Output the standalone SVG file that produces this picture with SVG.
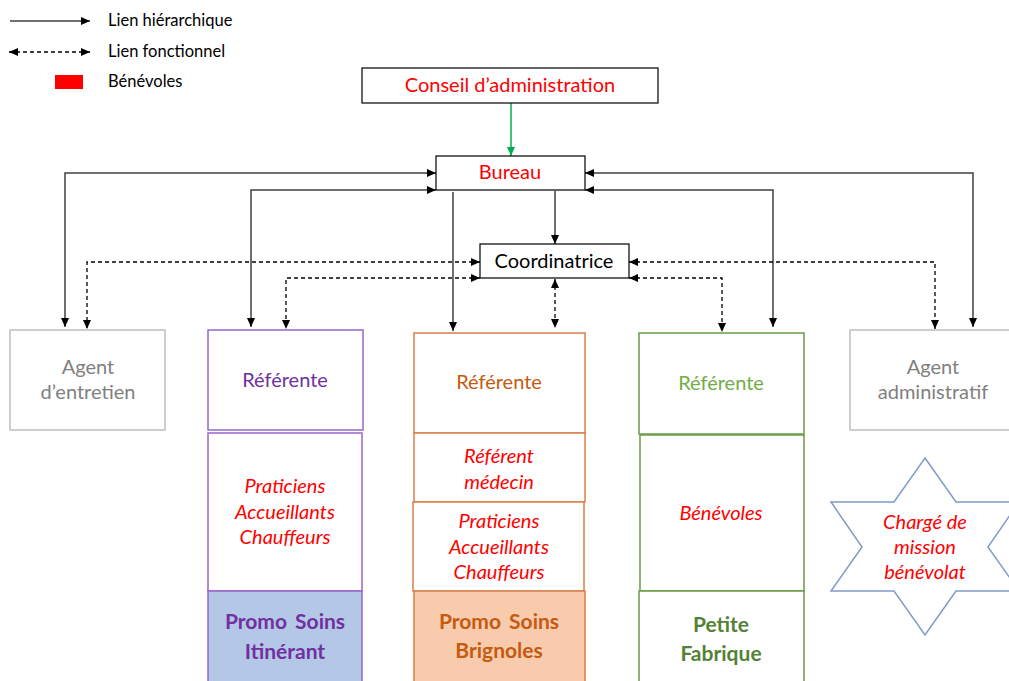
<svg xmlns="http://www.w3.org/2000/svg" width="1009" height="681" viewBox="0 0 1009 681">
<style>
text{font-family:Lato,"Open Sans","Liberation Sans",sans-serif;text-anchor:middle}
.lg{font-size:16.5px;text-anchor:start;fill:#000}
.t18{font-size:20px}
.red{fill:#ff0000}
.it{font-style:italic}
.gray{fill:#7f7f7f;font-size:20px}
.bold{font-weight:bold;font-size:21px}
.sol{fill:none;stroke:#404040;stroke-width:1.5}
.dash{fill:none;stroke:#000;stroke-width:1.3;stroke-dasharray:4 3}
.box{fill:#fff;stroke:#000;stroke-width:1.2}
.gbox{fill:#fff;stroke:#bfbfbf;stroke-width:1.5}
.pbox{fill:#fff;stroke:#9966cc;stroke-width:1.5}
.obox{fill:#fff;stroke:#d9804a;stroke-width:1.5}
.grbox{fill:#fff;stroke:#6a9a45;stroke-width:1.5}
</style>
<defs>
<marker id="ah" markerUnits="userSpaceOnUse" markerWidth="10" markerHeight="10" refX="9" refY="4" orient="auto-start-reverse" viewBox="0 0 10 8">
<path d="M0,0 L9,4 L0,8 Z" fill="#000"/>
</marker>
<marker id="ahg" markerUnits="userSpaceOnUse" markerWidth="10" markerHeight="10" refX="9" refY="4" orient="auto-start-reverse" viewBox="0 0 10 8">
<path d="M0,0 L9,4 L0,8 Z" fill="#00b050"/>
</marker>
</defs>
<rect width="1009" height="681" fill="#fff"/>

<g id="legend">
<line x1="10" y1="21" x2="90" y2="21" class="sol" stroke="#000" marker-end="url(#ah)"/>
<text x="108" y="26" class="lg">Lien hiérarchique</text>
<line x1="9" y1="52" x2="90" y2="52" class="dash" marker-start="url(#ah)" marker-end="url(#ah)"/>
<text x="108" y="57" class="lg">Lien fonctionnel</text>
<rect x="55" y="75" width="28" height="14" fill="#ff0000"/>
<text x="108" y="87" class="lg">Bénévoles</text>
</g>

<g id="connectors">
<line x1="511" y1="103" x2="511" y2="156" stroke="#00b050" stroke-width="1.5" marker-end="url(#ahg)"/>
<path d="M436,173 H65 V327" class="sol" marker-start="url(#ah)" marker-end="url(#ah)"/>
<path d="M436,190 H251 V327" class="sol" marker-start="url(#ah)" marker-end="url(#ah)"/>
<path d="M453,192 V331" class="sol" marker-end="url(#ah)"/>
<path d="M555,191 V244" class="sol" marker-end="url(#ah)"/>
<path d="M585,173 H973 V327" class="sol" marker-start="url(#ah)" marker-end="url(#ah)"/>
<path d="M585,190 H773 V327" class="sol" marker-start="url(#ah)" marker-end="url(#ah)"/>
<path d="M480,262 H87 V329" class="dash" marker-start="url(#ah)" marker-end="url(#ah)"/>
<path d="M480,278 H286 V329" class="dash" marker-start="url(#ah)" marker-end="url(#ah)"/>
<path d="M555,279 V328" class="dash" marker-start="url(#ah)" marker-end="url(#ah)"/>
<path d="M629,262 H935 V329" class="dash" marker-start="url(#ah)" marker-end="url(#ah)"/>
<path d="M629,278 H722 V332" class="dash" marker-start="url(#ah)" marker-end="url(#ah)"/>
</g>

<g id="conseil">
<rect x="362" y="68" width="296" height="35" class="box"/>
<text x="510" y="92" class="t18 red">Conseil d’administration</text>
</g>
<g id="bureau">
<rect x="436" y="156" width="149" height="34" class="box"/>
<text x="510" y="179" class="t18 red">Bureau</text>
</g>
<g id="coordinatrice">
<rect x="480" y="244" width="149" height="34" class="box"/>
<text x="554" y="268" class="t18" fill="#000">Coordinatrice</text>
</g>

<g id="agent-entretien">
<rect x="10" y="330" width="155" height="100" class="gbox"/>
<text x="88" y="374" class="gray">Agent</text>
<text x="88" y="399" class="gray">d’entretien</text>
</g>

<g id="col-itinerant">
<rect x="208" y="330" width="155" height="100" class="pbox"/>
<text x="285" y="387" class="t18" fill="#7030a0">Référente</text>
<rect x="208" y="433" width="154" height="158" class="pbox"/>
<text x="285" y="493" class="t18 red it">Praticiens</text>
<text x="285" y="519" class="t18 red it">Accueillants</text>
<text x="285" y="544" class="t18 red it">Chauffeurs</text>
<rect x="208" y="591" width="154" height="100" fill="#b4c7e7" stroke="#9966cc" stroke-width="1.5"/>
<text x="285" y="629" class="bold" fill="#7030a0" word-spacing="3">Promo Soins</text>
<text x="285" y="659" class="bold" fill="#7030a0">Itinérant</text>
</g>

<g id="col-brignoles">
<rect x="414" y="333" width="171" height="100" class="obox"/>
<text x="499" y="389" class="t18" fill="#c55a11">Référente</text>
<rect x="414" y="433" width="171" height="69" class="obox"/>
<text x="499" y="463" class="t18 red it">Référent</text>
<text x="499" y="489" class="t18 red it">médecin</text>
<rect x="413" y="502" width="171" height="89" class="obox"/>
<text x="499" y="528" class="t18 red it">Praticiens</text>
<text x="499" y="554" class="t18 red it">Accueillants</text>
<text x="499" y="579" class="t18 red it">Chauffeurs</text>
<rect x="414" y="591" width="171" height="100" fill="#f8cbad" stroke="#d9804a" stroke-width="1.5"/>
<text x="499" y="629" class="bold" fill="#c55a11" word-spacing="3">Promo Soins</text>
<text x="499" y="658" class="bold" fill="#c55a11">Brignoles</text>
</g>

<g id="col-fabrique">
<rect x="639" y="333" width="165" height="101" class="grbox"/>
<text x="721" y="390" class="t18" fill="#70ad47">Référente</text>
<rect x="640" y="435" width="164" height="156" class="grbox" stroke-width="2"/>
<text x="721" y="520" class="t18 red it">Bénévoles</text>
<rect x="639" y="591" width="165" height="100" class="grbox"/>
<text x="721" y="632" class="bold" fill="#548235">Petite</text>
<text x="721" y="661" class="bold" fill="#548235">Fabrique</text>
</g>

<g id="agent-administratif">
<rect x="850" y="330" width="165" height="100" class="gbox"/>
<text x="933" y="374" class="gray">Agent</text>
<text x="933" y="399" class="gray">administratif</text>
</g>

<g id="charge-mission">
<polygon points="925,458 956,502 1019,502 988,547 1019,591 956,591 925,635 894,591 831,591 862,547 831,502 894,502" fill="#fff" stroke="#7f9cc8" stroke-width="1.5"/>
<text x="925" y="529" class="t18 red it">Chargé de</text>
<text x="925" y="554" class="t18 red it">mission</text>
<text x="925" y="579" class="t18 red it">bénévolat</text>
</g>
</svg>
